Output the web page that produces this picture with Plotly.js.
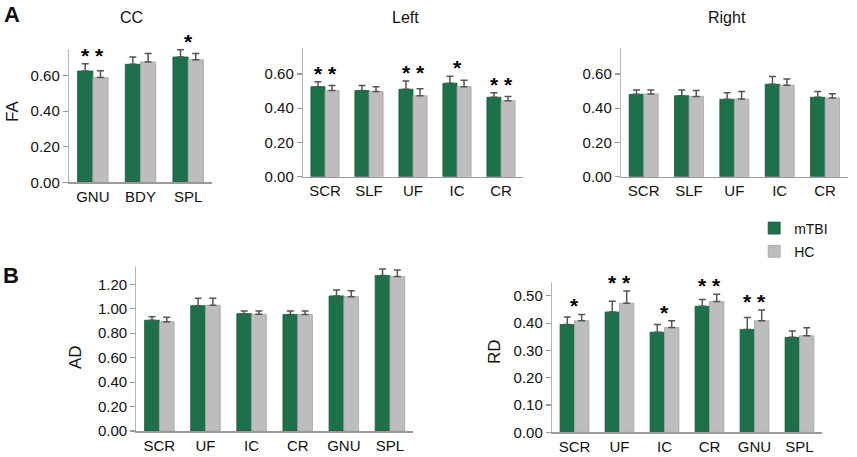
<!DOCTYPE html>
<html>
<head>
<meta charset="utf-8">
<script src="https://cdn.plot.ly/plotly-3.0.1.min.js"></script>
<style>html,body{margin:0;padding:0;background:#fff;}#chart{width:857px;height:457px;}</style>
</head>
<body>
<div id="chart"></div>
<script>
// ---- Data (means and SD) ----
const ccCats = ["GNU", "BDY", "SPL"];
const ccFA_mTBI = [0.626, 0.664, 0.705];
const ccFA_mTBI_sd = [0.041, 0.041, 0.041];
const ccFA_HC = [0.589, 0.677, 0.690];
const ccFA_HC_sd = [0.039, 0.047, 0.034];
const ccSig = ["**", "", "*"];

const sideCats = ["SCR", "SLF", "UF", "IC", "CR"];
const leftFA_mTBI = [0.526, 0.503, 0.511, 0.546, 0.464];
const leftFA_mTBI_sd = [0.029, 0.029, 0.048, 0.041, 0.027];
const leftFA_HC = [0.503, 0.497, 0.473, 0.526, 0.444];
const leftFA_HC_sd = [0.029, 0.029, 0.041, 0.037, 0.024];
const leftSig = ["**", "", "**", "*", "**"];

const rightFA_mTBI = [0.481, 0.473, 0.452, 0.540, 0.464];
const rightFA_mTBI_sd = [0.026, 0.034, 0.039, 0.045, 0.033];
const rightFA_HC = [0.483, 0.468, 0.454, 0.534, 0.460];
const rightFA_HC_sd = [0.024, 0.035, 0.043, 0.037, 0.025];
const rightSig = ["", "", "", "", ""];

const bCats = ["SCR", "UF", "IC", "CR", "GNU", "SPL"];
const AD_mTBI = [0.906, 1.025, 0.960, 0.952, 1.105, 1.271];
const AD_mTBI_sd = [0.029, 0.061, 0.022, 0.030, 0.049, 0.055];
const AD_HC = [0.894, 1.028, 0.955, 0.952, 1.099, 1.263];
const AD_HC_sd = [0.036, 0.058, 0.027, 0.030, 0.049, 0.055];
const adSig = ["", "", "", "", "", ""];

const RD_mTBI = [0.395, 0.441, 0.367, 0.462, 0.377, 0.348];
const RD_mTBI_sd = [0.028, 0.039, 0.028, 0.025, 0.044, 0.023];
const RD_HC = [0.409, 0.473, 0.384, 0.479, 0.409, 0.354];
const RD_HC_sd = [0.023, 0.045, 0.025, 0.027, 0.039, 0.029];
const rdSig = ["*", "**", "*", "**", "**", ""];

const groupNames = ["mTBI", "HC"];

// ---- Styles ----
const GREEN = "#1d7049";
const GRAY = "#bdbdbd";
const FONT = "Liberation Sans, Arial, Helvetica, sans-serif";

const panels = [
  {cats: ccCats, a: ccFA_mTBI, asd: ccFA_mTBI_sd, b: ccFA_HC, bsd: ccFA_HC_sd, sig: ccSig, xa: "x", ya: "y"},
  {cats: sideCats, a: leftFA_mTBI, asd: leftFA_mTBI_sd, b: leftFA_HC, bsd: leftFA_HC_sd, sig: leftSig, xa: "x2", ya: "y2"},
  {cats: sideCats, a: rightFA_mTBI, asd: rightFA_mTBI_sd, b: rightFA_HC, bsd: rightFA_HC_sd, sig: rightSig, xa: "x3", ya: "y3"},
  {cats: bCats, a: AD_mTBI, asd: AD_mTBI_sd, b: AD_HC, bsd: AD_HC_sd, sig: adSig, xa: "x4", ya: "y4"},
  {cats: bCats, a: RD_mTBI, asd: RD_mTBI_sd, b: RD_HC, bsd: RD_HC_sd, sig: rdSig, xa: "x5", ya: "y5"}
];

const traces = [];
const annotations = [];
panels.forEach((p, i) => {
  [[p.a, p.asd, GREEN, "#175c3c", groupNames[0]], [p.b, p.bsd, GRAY, "#a5a5a5", groupNames[1]]].forEach(([vals, sd, col, lc, name]) => {
    traces.push({
      type: "bar", x: p.cats, y: vals, name: name, legendgroup: name,
      showlegend: i === 0, xaxis: p.xa, yaxis: p.ya,
      marker: {color: col, line: {color: lc, width: 0.8}},
      error_y: {type: "data", symmetric: false, array: sd, arrayminus: sd.map(() => 0),
                color: "#555555", thickness: 1.5, width: 3.5},
      hoverinfo: "skip"
    });
  });
  p.sig.forEach((s, k) => {
    if (!s) return;
    const top = Math.max(p.a[k] + p.asd[k], p.b[k] + p.bsd[k]);
    annotations.push({
      x: p.cats[k], y: top, xref: p.xa, yref: p.ya, yanchor: "bottom",
      text: s === "**" ? "<b>*</b> <b>*</b>" : "<b>*</b>", showarrow: false, yshift: -5,
      font: {family: FONT, size: 21, color: "#000"}
    });
  });
});

function txt(t, x, y, size, opts) {
  return Object.assign({text: t, x: x / 857, y: 1 - y / 457, xref: "paper", yref: "paper",
    xanchor: "center", yanchor: "middle", showarrow: false,
    font: {family: FONT, size: size, color: "#111"}}, opts || {});
}
annotations.push(txt("<b>A</b>", 12, 15, 22));
annotations.push(txt("<b>B</b>", 11, 275, 22));
annotations.push(txt("CC", 131, 18, 16));
annotations.push(txt("Left", 405, 18, 16));
annotations.push(txt("Right", 727, 18, 16));
annotations.push(txt("FA", 13, 112, 17, {textangle: -90}));
annotations.push(txt("AD", 75, 357, 17, {textangle: -90}));
annotations.push(txt("RD", 494, 352, 17, {textangle: -90}));

function xax(d0, d1, anchor) {
  return {domain: [d0 / 857, d1 / 857], anchor: anchor, showline: true, linecolor: "#9a9a9a", linewidth: 1.5,
    ticks: "", showgrid: false, zeroline: false, fixedrange: true,
    tickfont: {family: FONT, size: 15, color: "#111"}};
}
function yax(bottom, top, range, dtick, anchor) {
  return {domain: [1 - bottom / 457, 1 - top / 457], anchor: anchor, range: range, dtick: dtick, tick0: 0,
    tickformat: ".2f", showline: true, linecolor: "#b5b5b5", linewidth: 1.2,
    ticks: "outside", ticklen: 5, tickcolor: "#9a9a9a", tickwidth: 1.2,
    showgrid: false, zeroline: false, fixedrange: true,
    tickfont: {family: FONT, size: 15, color: "#111"}};
}

const layout = {
  width: 857, height: 457,
  margin: {l: 0, r: 0, t: 0, b: 0},
  paper_bgcolor: "#fff", plot_bgcolor: "#fff",
  barmode: "group", bargap: 0.36, bargroupgap: 0,
  font: {family: FONT, color: "#111"},
  showlegend: true,
  legend: {x: 0.880, y: 0.535, xanchor: "left", yanchor: "top", font: {family: FONT, size: 14, color: "#111"},
    bgcolor: "rgba(0,0,0,0)", tracegroupgap: 2, itemwidth: 30},
  xaxis: xax(69, 212, "y"),
  yaxis: yax(182.3, 49, [0, 0.75], 0.2, "x"),
  xaxis2: xax(303, 523, "y2"),
  yaxis2: yax(176.7, 48.3, [0, 0.75], 0.2, "x2"),
  xaxis3: xax(621, 847.7, "y3"),
  yaxis3: yax(176.7, 48.3, [0, 0.75], 0.2, "x3"),
  xaxis4: xax(136.3, 413, "y4"),
  yaxis4: yax(431, 266.7, [0, 1.344], 0.2, "x4"),
  xaxis5: xax(552, 822, "y5"),
  yaxis5: yax(432.3, 281.7, [0, 0.552], 0.1, "x5"),
  annotations: annotations
};

Plotly.newPlot("chart", traces, layout, {staticPlot: true, displayModeBar: false});
</script>
</body>
</html>
